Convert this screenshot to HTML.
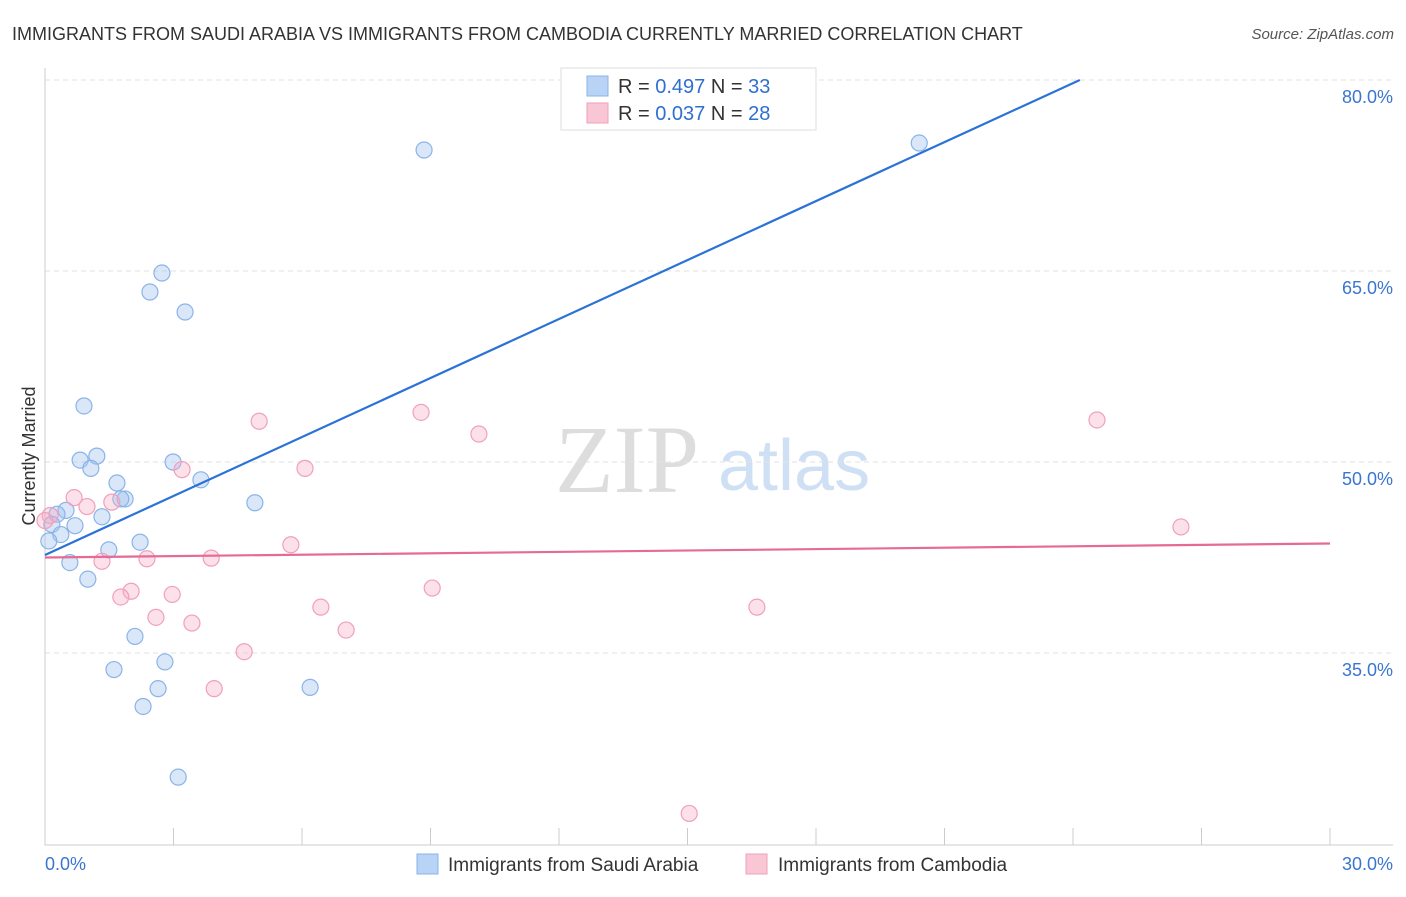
<!DOCTYPE html>
<html><head><meta charset="utf-8"><style>
body{margin:0;background:#fff;font-family:"Liberation Sans",sans-serif;}
</style></head><body>
<svg id="c" width="1406" height="892" xmlns="http://www.w3.org/2000/svg" style="font-family:'Liberation Sans',sans-serif">
<text x="12" y="40" font-size="18" fill="#333">IMMIGRANTS FROM SAUDI ARABIA VS IMMIGRANTS FROM CAMBODIA CURRENTLY MARRIED CORRELATION CHART</text>
<text x="1394" y="39" font-size="15" fill="#555" font-style="italic" text-anchor="end">Source: ZipAtlas.com</text>
<text x="35" y="456" font-size="18" fill="#333" text-anchor="middle" transform="rotate(-90 35 456)">Currently Married</text>
<text x="555" y="492" font-size="96" fill="#ddd" font-family="Liberation Serif">ZIP</text>
<text x="718" y="490" font-size="72" fill="#cfe0f5">atlas</text>
<g id="grid"></g><g id="pts"></g><g id="lines"></g>
<g>
<rect x="561" y="68" width="255" height="62" fill="#fff" stroke="#ddd"/>
<rect x="587" y="76" width="21" height="20" fill="#b8d3f5" stroke="#8ab4e8"/>
<rect x="587" y="103" width="21" height="20" fill="#f8c6d5" stroke="#f0a0bb"/>
<text x="618" y="93" font-size="20" fill="#333">R = <tspan fill="#2f6fd0">0.497</tspan>   N = <tspan fill="#2f6fd0">33</tspan></text>
<text x="618" y="120" font-size="20" fill="#333">R = <tspan fill="#2f6fd0">0.037</tspan>   N = <tspan fill="#2f6fd0">28</tspan></text>
</g>
<g>
<rect x="417" y="854" width="21" height="20" fill="#b8d3f5" stroke="#8ab4e8"/>
<text x="448" y="871" font-size="19" fill="#333">Immigrants from Saudi Arabia</text>
<rect x="746" y="854" width="21" height="20" fill="#f8c6d5" stroke="#f0a0bb"/>
<text x="778" y="871" font-size="19" fill="#333">Immigrants from Cambodia</text>
</g>
</svg>
<script>
const yTicks=[80,65,50,35];
const yTickLabels=["80.0%","65.0%","50.0%","35.0%"];
const xTickLabels=["0.0%","30.0%"];
const blueX=[8.85,20.41,2.73,2.45,3.27,0.91,1.21,0.82,1.07,2.99,3.64,1.68,1.87,1.77,4.90,0.49,0.28,1.33,0.70,0.16,0.37,0.09,2.22,1.49,0.58,1.00,2.10,2.80,1.61,2.64,2.29,6.19,3.11];
const blueY=[74.5,75.05,64.84,63.35,61.78,54.4,50.46,50.15,49.5,50.0,48.6,48.35,47.1,47.1,46.8,46.2,45.9,45.7,45.0,45.1,44.3,43.8,43.7,43.1,42.1,40.8,36.3,34.3,33.7,32.2,30.8,32.3,25.25];
const pinkX=[8.78,5.0,10.13,24.56,6.07,3.2,0.68,0.98,1.56,26.52,0.12,0.0,5.74,3.88,2.38,1.33,9.04,2.01,1.77,2.97,6.44,16.62,2.59,3.43,7.03,4.65,3.95,15.04];
const pinkY=[53.9,53.2,52.2,53.3,49.5,49.4,47.2,46.5,46.85,44.9,45.8,45.4,43.5,42.45,42.4,42.2,40.1,39.85,39.4,39.6,38.6,38.6,37.8,37.35,36.8,35.1,32.2,22.4];
const blueTrend=[[0,42.7],[24.16,80]];
const pinkTrend=[[0,42.5],[30,43.6]];
const NS="http://www.w3.org/2000/svg";
const X=v=>45+v*(1285/30);
const Y=v=>80+(80-v)*(191/15);
function mk(t,a,p){const e=document.createElementNS(NS,t);for(const k in a)e.setAttribute(k,a[k]);p.appendChild(e);return e;}
const g=document.getElementById('grid');
yTicks.forEach((t,i)=>{
 const l=mk('line',{x1:45,x2:1393,y1:Y(t),y2:Y(t),stroke:'#e2e2e2','stroke-dasharray':'5,4'},g);
 
 
 const tx=mk('text',{x:1393,y:Y(t)+23,'font-size':18,fill:'#3a75d0','text-anchor':'end'},g);
 tx.textContent=yTickLabels[i];
 
 
});
const ax=mk('path',{d:'M45,68V845H1393',stroke:'#ccc',fill:'none'},g);


for(let i=0;i<=10;i++){
 const tk=mk('line',{x1:X(i*3),x2:X(i*3),y1:828,y2:845,stroke:'#ccc'},g);
 
 
}
[[0,'start',45],[1,'end',1393]].forEach(([i,a,x])=>{
 const t=mk('text',{x:x,y:870,'font-size':18,fill:'#3a75d0','text-anchor':a},g);
 t.textContent=xTickLabels[i];
 
 
});
const p=document.getElementById('pts');
blueX.forEach((x,i)=>{
 const c=mk('circle',{cx:X(x),cy:Y(blueY[i]),r:8,fill:'rgba(160,195,240,0.4)',stroke:'#8ab4e8','stroke-width':1.2},p);
 
 
});
pinkX.forEach((x,i)=>{
 const c=mk('circle',{cx:X(x),cy:Y(pinkY[i]),r:8,fill:'rgba(245,170,195,0.35)',stroke:'#f0a0bb','stroke-width':1.2},p);
 
 
});
const L=document.getElementById('lines');
const bl=mk('line',{x1:X(blueTrend[0][0]),y1:Y(blueTrend[0][1]),x2:X(blueTrend[1][0]),y2:Y(blueTrend[1][1]),stroke:'#2a72d8','stroke-width':2.2},L);


const pl=mk('line',{x1:X(pinkTrend[0][0]),y1:Y(pinkTrend[0][1]),x2:X(pinkTrend[1][0]),y2:Y(pinkTrend[1][1]),stroke:'#e56a95','stroke-width':2.2},L);


</script>
</body></html>
